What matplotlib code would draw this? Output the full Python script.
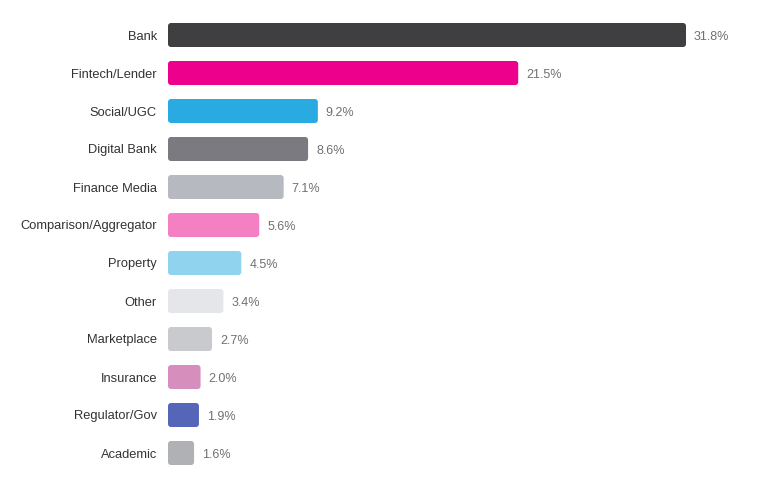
import matplotlib.pyplot as plt
from matplotlib.patches import FancyBboxPatch

plt.rcParams['font.family'] = ['Liberation Sans', 'DejaVu Sans']

# data, top to bottom
categories = ['Bank', 'Fintech/Lender', 'Social/UGC', 'Digital Bank', 'Finance Media',
              'Comparison/Aggregator', 'Property', 'Other', 'Marketplace', 'Insurance',
              'Regulator/Gov', 'Academic']
shares = [31.8, 21.5, 9.2, 8.6, 7.1, 5.6, 4.5, 3.4, 2.7, 2.0, 1.9, 1.6]
colors = ['#3f3f42', '#ec008c', '#29abe2', '#7a7a80', '#b6b9bf', '#f47fc3',
          '#8fd3ee', '#e5e6ea', '#c8cace', '#d68fbc', '#5565b8', '#b0b1b5']

W, H = 760, 488
fig = plt.figure(figsize=(W / 100, H / 100), dpi=100)
ax_left, ax_w = 168, 560
xmax = ax_w / (518 / 31.8)
ax = fig.add_axes([ax_left / W, (H - 472) / H, ax_w / W, 456 / H])
ax.set_xlim(0, xmax)
ax.set_ylim(len(categories) - 0.5, -0.5)

px_x = ax_w / xmax      # pixels per x unit
px_y = 38               # pixels per y unit
bar_h = 24 / 38
radius = 3 / px_x
aspect = px_x / px_y

for i, (v, c) in enumerate(zip(shares, colors)):
    box = FancyBboxPatch((0, i - bar_h / 2), v, bar_h,
                         boxstyle=f'round,pad=0,rounding_size={radius}',
                         mutation_aspect=aspect, facecolor=c, edgecolor='none')
    ax.add_patch(box)
    ax.text(v + 8 / px_x, i, f'{v:.1f}%', va='center_baseline', ha='left',
            fontsize=9, color='#707070')

ax.set_yticks(range(len(categories)))
ax.set_yticklabels(categories, fontsize=9.3, color='#333333')
ax.tick_params(axis='y', length=0, pad=8)
ax.set_xticks([])
for s in ax.spines.values():
    s.set_visible(False)

fig.savefig('out.png', dpi=100)
